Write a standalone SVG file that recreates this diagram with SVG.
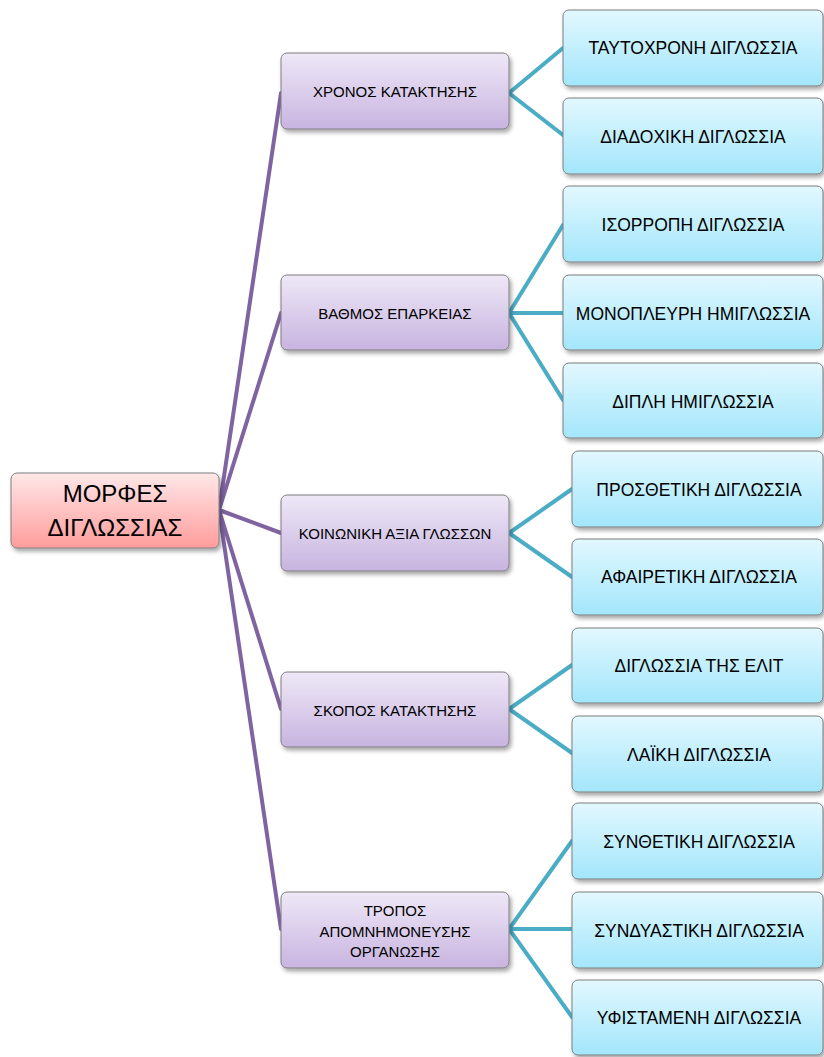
<svg xmlns="http://www.w3.org/2000/svg" width="824" height="1057" viewBox="0 0 824 1057">
<defs>
<linearGradient id="gRoot" x1="0" y1="0" x2="0" y2="1"><stop offset="0" stop-color="#ffe8e8"/><stop offset="1" stop-color="#ff9c9c"/></linearGradient>
<linearGradient id="gMid" x1="0" y1="0" x2="0" y2="1"><stop offset="0" stop-color="#eee8f7"/><stop offset="1" stop-color="#c8b4e0"/></linearGradient>
<linearGradient id="gLeaf" x1="0" y1="0" x2="0" y2="1"><stop offset="0" stop-color="#e2f8ff"/><stop offset="1" stop-color="#a3e6fb"/></linearGradient>
<filter id="sh" x="-10%" y="-20%" width="130%" height="150%"><feDropShadow dx="2" dy="3" stdDeviation="2" flood-color="#000" flood-opacity="0.35"/></filter>
</defs>
<style>
.box{stroke:#7f7f7f;stroke-width:1;filter:url(#sh)}
.root{fill:url(#gRoot)}
.mid{fill:url(#gMid)}
.leaf{fill:url(#gLeaf)}
text{font-family:"Liberation Sans",Arial,sans-serif;fill:#000;text-anchor:middle}
.tr{font-size:24px}
.tm{font-size:15px}
.tl{font-size:17.5px}
.cp{stroke:#8064a2;stroke-width:4;fill:none;stroke-linecap:round}
.cb{stroke:#4bacc6;stroke-width:4;fill:none;stroke-linecap:round;stroke-linejoin:miter}
</style>
<rect width="824" height="1057" fill="#fff"/>
<g id="connectors">
<path class="cp" d="M219 510 L281 93 M219 510 L281 313 M219 510 L281 533 M219 510 L281 709 M219 510 L281 929"/>
<path class="cb" d="M563 48 L509 93 L563 135"/>
<path class="cb" d="M563 225 L509 313 L563 400 M509 313 L563 313"/>
<path class="cb" d="M572 489 L509 533 L572 577"/>
<path class="cb" d="M572 665 L509 709 L572 753"/>
<path class="cb" d="M572 841 L509 929 L572 1017 M509 929 L572 929"/>
</g>
<g id="root"><rect class="box root" x="11" y="473" width="208" height="75" rx="6"/><text class="tr" x="115" y="502">ΜΟΡΦΕΣ</text><text class="tr" x="115" y="536">ΔΙΓΛΩΣΣΙΑΣ</text></g>
<g id="m1"><rect class="box mid" x="281" y="53" width="228" height="76" rx="6"/><text class="tm" x="395" y="97">ΧΡΟΝΟΣ ΚΑΤΑΚΤΗΣΗΣ</text></g>
<g id="m2"><rect class="box mid" x="281" y="275" width="228" height="75" rx="6"/><text class="tm" x="395" y="318.5">ΒΑΘΜΟΣ ΕΠΑΡΚΕΙΑΣ</text></g>
<g id="m3"><rect class="box mid" x="281" y="495" width="228" height="76" rx="6"/><text class="tm" x="395" y="539">ΚΟΙΝΩΝΙΚΗ ΑΞΙΑ ΓΛΩΣΣΩΝ</text></g>
<g id="m4"><rect class="box mid" x="281" y="672" width="228" height="75" rx="6"/><text class="tm" x="395" y="716">ΣΚΟΠΟΣ ΚΑΤΑΚΤΗΣΗΣ</text></g>
<g id="m5"><rect class="box mid" x="281" y="892" width="228" height="76" rx="6"/><text class="tm" x="395" y="916">ΤΡΟΠΟΣ</text><text class="tm" x="395" y="936.5">ΑΠΟΜΝΗΜΟΝΕΥΣΗΣ</text><text class="tm" x="395" y="956.5">ΟΡΓΑΝΩΣΗΣ</text></g>
<g id="l1"><rect class="box leaf" x="563" y="10" width="260" height="76" rx="6"/><text class="tl" x="693" y="54">ΤΑΥΤΟΧΡΟΝΗ ΔΙΓΛΩΣΣΙΑ</text></g>
<g id="l2"><rect class="box leaf" x="563" y="98" width="260" height="76" rx="6"/><text class="tl" x="693" y="142.5">ΔΙΑΔΟΧΙΚΗ ΔΙΓΛΩΣΣΙΑ</text></g>
<g id="l3"><rect class="box leaf" x="563" y="186" width="260" height="76" rx="6"/><text class="tl" x="693" y="231">ΙΣΟΡΡΟΠΗ ΔΙΓΛΩΣΣΙΑ</text></g>
<g id="l4"><rect class="box leaf" x="563" y="275" width="260" height="75" rx="6"/><text class="tl" x="693" y="320">ΜΟΝΟΠΛΕΥΡΗ ΗΜΙΓΛΩΣΣΙΑ</text></g>
<g id="l5"><rect class="box leaf" x="563" y="363" width="260" height="75" rx="6"/><text class="tl" x="693" y="407.5">ΔΙΠΛΗ ΗΜΙΓΛΩΣΣΙΑ</text></g>
<g id="l6"><rect class="box leaf" x="572" y="451" width="251" height="76" rx="6"/><text class="tl" x="699" y="496">ΠΡΟΣΘΕΤΙΚΗ ΔΙΓΛΩΣΣΙΑ</text></g>
<g id="l7"><rect class="box leaf" x="572" y="539" width="251" height="76" rx="6"/><text class="tl" x="699" y="583">ΑΦΑΙΡΕΤΙΚΗ ΔΙΓΛΩΣΣΙΑ</text></g>
<g id="l8"><rect class="box leaf" x="572" y="628" width="251" height="75" rx="6"/><text class="tl" x="699" y="672">ΔΙΓΛΩΣΣΙΑ ΤΗΣ ΕΛΙΤ</text></g>
<g id="l9"><rect class="box leaf" x="572" y="716" width="251" height="76" rx="6"/><text class="tl" x="699" y="760.5">ΛΑΪΚΗ ΔΙΓΛΩΣΣΙΑ</text></g>
<g id="l10"><rect class="box leaf" x="572" y="803" width="251" height="76" rx="6"/><text class="tl" x="699" y="848">ΣΥΝΘΕΤΙΚΗ ΔΙΓΛΩΣΣΙΑ</text></g>
<g id="l11"><rect class="box leaf" x="572" y="892" width="251" height="76" rx="6"/><text class="tl" x="699" y="936.5">ΣΥΝΔΥΑΣΤΙΚΗ ΔΙΓΛΩΣΣΙΑ</text></g>
<g id="l12"><rect class="box leaf" x="572" y="980" width="251" height="75" rx="6"/><text class="tl" x="699" y="1024">ΥΦΙΣΤΑΜΕΝΗ ΔΙΓΛΩΣΣΙΑ</text></g>
</svg>
